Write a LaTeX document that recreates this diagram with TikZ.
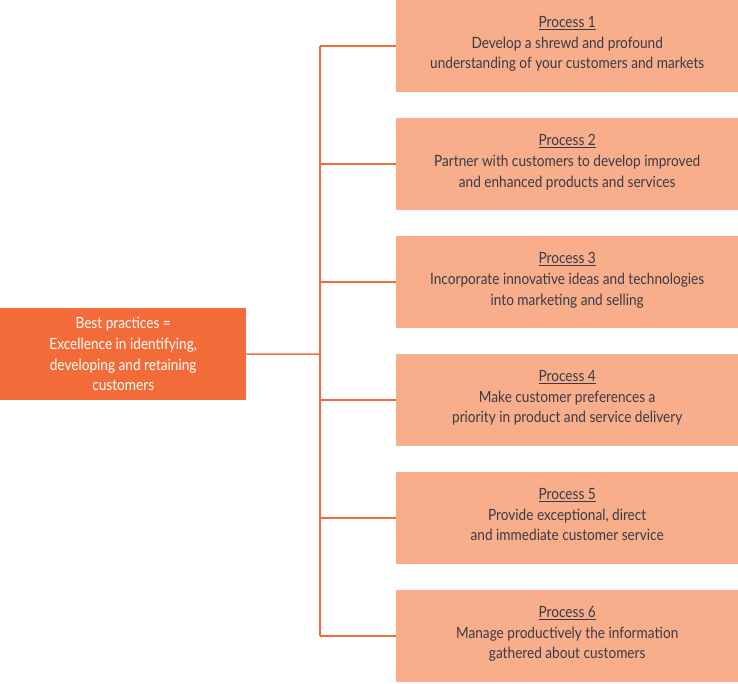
\documentclass[tikz,border=0pt]{standalone}
\usepackage{fontspec}
\setmainfont{Lato}[FakeStretch=0.88]
\definecolor{dark}{HTML}{F26B38}
\definecolor{light}{HTML}{F8AE8A}
\definecolor{txt}{HTML}{3A3B48}
\begin{document}
\begin{tikzpicture}[x=1pt,y=-1pt,
  proc/.style={fill=light,draw=none,minimum width=342pt,minimum height=92pt,anchor=north west,inner sep=0pt,align=center,text=txt,text depth=7pt,font=\fontsize{15.5}{20.7}\selectfont},
  main/.style={fill=dark,draw=none,minimum width=246pt,minimum height=92pt,anchor=north west,inner sep=0pt,align=center,text=white,font=\fontsize{15.5}{20.7}\selectfont},
  conn/.style={draw=dark,line width=1.5pt}]
\useasboundingbox (0,0) rectangle (738,683);
\node[main] (m) at (0,308) {\raisebox{-3pt}{\parbox{240pt}{\centering Best practices =\\Excellence in identifying,\\developing and retaining\\customers}}};
\node[proc] (p1) at (396,0) {\underline{Process 1}\\Develop a shrewd and profound\\understanding of your customers and markets};
\node[proc] (p2) at (396,118) {\underline{Process 2}\\Partner with customers to develop improved\\and enhanced products and services};
\node[proc] (p3) at (396,236) {\underline{Process 3}\\Incorporate innovative ideas and technologies\\into marketing and selling};
\node[proc] (p4) at (396,354) {\underline{Process 4}\\Make customer preferences a\\priority in product and service delivery};
\node[proc] (p5) at (396,472) {\underline{Process 5}\\Provide exceptional, direct\\and immediate customer service};
\node[proc] (p6) at (396,590) {\underline{Process 6}\\Manage productively the information\\gathered about customers};
\coordinate (t) at (320,46);
\coordinate (b) at (320,636);
\coordinate (j) at (320,354);
\draw[conn] (t) -- (b);
\draw[conn] (m.east) -- (j);
\foreach \i in {1,...,6} \draw[conn] (p\i.west) -- (p\i.west -| t);
\end{tikzpicture}
\end{document}
